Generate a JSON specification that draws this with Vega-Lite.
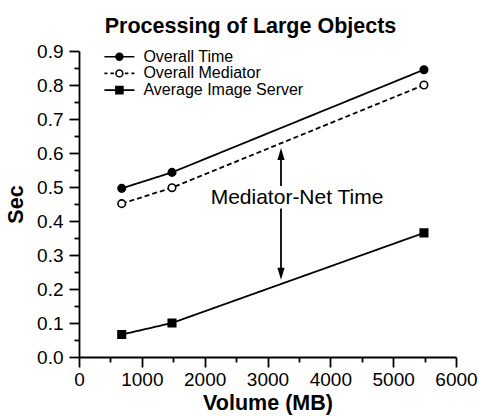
{
  "$schema": "https://vega.github.io/schema/vega-lite/v6.json",
  "width": 377,
  "height": 306,
  "autosize": {"type": "none"},
  "padding": {"left": 79, "top": 51, "right": 23, "bottom": 59},
  "background": "white",
  "title": {"text": "Processing of Large Objects", "font": "Liberation Sans", "fontSize": 21.5, "fontWeight": "bold", "color": "black", "anchor": "middle", "dx": -17, "offset": 5},
  "config": {
    "view": {"stroke": null},
    "font": "Liberation Sans",
    "axis": {"grid": false, "domainColor": "black", "domainWidth": 1.8, "tickColor": "black", "tickWidth": 1.8, "labelColor": "black", "labelFont": "Liberation Sans", "labelFontSize": 19, "titleFont": "Liberation Sans", "titleFontSize": 21.5, "titleFontWeight": "bold", "titleColor": "black", "labelOverlap": false, "labelFlush": false}
  },
  "datasets": {
    "series": [
      {"series": "Overall Time", "vol": 680, "sec": 0.496},
      {"series": "Overall Time", "vol": 1480, "sec": 0.543},
      {"series": "Overall Time", "vol": 5490, "sec": 0.845},
      {"series": "Overall Mediator", "vol": 680, "sec": 0.451},
      {"series": "Overall Mediator", "vol": 1480, "sec": 0.498},
      {"series": "Overall Mediator", "vol": 5490, "sec": 0.800},
      {"series": "Average Image Server", "vol": 680, "sec": 0.066},
      {"series": "Average Image Server", "vol": 1480, "sec": 0.100},
      {"series": "Average Image Server", "vol": 5490, "sec": 0.365}
    ]
  },
  "encoding": {
    "x": {"field": "vol", "type": "quantitative", "scale": {"domain": [0, 6000], "nice": false, "zero": false},
      "axis": {"title": "Volume (MB)", "format": "d", "values": [0, 500, 1000, 1500, 2000, 2500, 3000, 3500, 4000, 4500, 5000, 5500, 6000],
        "tickSize": {"condition": {"test": "datum.value % 1000 === 0", "value": 10}, "value": 5},
        "labelExpr": "datum.value % 1000 === 0 ? datum.label : ''", "labelPadding": 3, "titlePadding": 3}},
    "y": {"field": "sec", "type": "quantitative", "scale": {"domain": [0, 0.9], "nice": false},
      "axis": {"title": "Sec", "values": [0, 0.05, 0.1, 0.15, 0.2, 0.25, 0.3, 0.35, 0.4, 0.45, 0.5, 0.55, 0.6, 0.65, 0.7, 0.75, 0.8, 0.85, 0.9],
        "tickSize": {"condition": {"test": "abs(datum.value * 10 - round(datum.value * 10)) < 0.001", "value": 10}, "value": 5},
        "labelExpr": "abs(datum.value * 10 - round(datum.value * 10)) < 0.001 ? format(datum.value, '.1f') : ''", "labelPadding": 6, "titlePadding": 9}}
  },
  "layer": [
    {
      "data": {"name": "series"},
      "mark": {"type": "line", "color": "black", "strokeWidth": 1.8},
      "encoding": {
        "detail": {"field": "series"},
        "strokeDash": {"field": "series", "type": "nominal", "scale": {"domain": ["Overall Time", "Overall Mediator", "Average Image Server"], "range": [[1, 0], [5, 3], [1, 0]]}, "legend": null}
      }
    },
    {
      "data": {"name": "series"},
      "mark": {"type": "point", "filled": true, "stroke": "black", "strokeWidth": 1.6, "size": 56, "opacity": 1},
      "encoding": {
        "shape": {"field": "series", "type": "nominal", "scale": {"domain": ["Overall Time", "Overall Mediator", "Average Image Server"], "range": ["circle", "circle", "square"]}, "legend": null},
        "fill": {"field": "series", "type": "nominal", "scale": {"domain": ["Overall Time", "Overall Mediator", "Average Image Server"], "range": ["black", "white", "black"]}, "legend": null}
      }
    },
    {
      "data": {"name": "series"},
      "transform": [{"filter": "datum.vol < 0"}],
      "mark": {"type": "point", "filled": false, "strokeWidth": 1.6, "opacity": 1},
      "encoding": {
        "shape": {"field": "series", "type": "nominal", "scale": {"domain": ["Overall Time", "Overall Mediator", "Average Image Server"],
          "range": [
            "M-3,0L3,0M-0.68,0A0.68,0.68,0,1,0,0.68,0A0.68,0.68,0,1,0,-0.68,0Z",
            "M-3,0L-2.4,0M-1.8,0L-1.1,0M1.1,0L1.8,0M2.4,0L3,0M-0.68,0A0.68,0.68,0,1,0,0.68,0A0.68,0.68,0,1,0,-0.68,0Z",
            "M-3,0L3,0M-0.7,-0.7L0.7,-0.7L0.7,0.7L-0.7,0.7Z"
          ]},
          "legend": {"title": null, "orient": "none", "legendX": 32.4, "legendY": -2.3, "symbolSize": 100, "symbolStrokeWidth": 1.6, "labelFontSize": 16, "labelColor": "black", "labelFont": "Liberation Sans", "labelOffset": 16, "rowPadding": 0.7, "padding": 0, "symbolOpacity": 1}},
        "fill": {"field": "series", "type": "nominal", "scale": {"domain": ["Overall Time", "Overall Mediator", "Average Image Server"], "range": ["black", "white", "black"]},
          "legend": {"title": null, "orient": "none", "legendX": 32.4, "legendY": -2.3, "symbolSize": 100, "symbolStrokeWidth": 1.6, "labelFontSize": 16, "labelColor": "black", "labelFont": "Liberation Sans", "labelOffset": 16, "rowPadding": 0.7, "padding": 0, "symbolOpacity": 1}},
        "stroke": {"field": "series", "type": "nominal", "scale": {"domain": ["Overall Time", "Overall Mediator", "Average Image Server"], "range": ["black", "black", "black"]},
          "legend": {"title": null, "orient": "none", "legendX": 32.4, "legendY": -2.3, "symbolSize": 100, "symbolStrokeWidth": 1.6, "labelFontSize": 16, "labelColor": "black", "labelFont": "Liberation Sans", "labelOffset": 16, "rowPadding": 0.7, "padding": 0, "symbolOpacity": 1}}
      }
    },
    {
      "data": {"values": [{"vol": 3215, "sec": 0.598, "sec2": 0.503}, {"vol": 3215, "sec": 0.437, "sec2": 0.245}]},
      "mark": {"type": "rule", "color": "black", "strokeWidth": 1.8},
      "encoding": {
        "y2": {"field": "sec2"}
      }
    },
    {
      "data": {"values": [{"vol": 3215, "sec": 0.597, "dir": "up"}, {"vol": 3215, "sec": 0.245, "dir": "down"}]},
      "mark": {"type": "point", "filled": true, "color": "black", "size": 144, "opacity": 1},
      "encoding": {
        "shape": {"field": "dir", "type": "nominal", "scale": {"domain": ["up", "down"], "range": ["M0,-1L0.6,1L-0.6,1Z", "M0,1L0.6,-1L-0.6,-1Z"]}, "legend": null}
      }
    },
    {
      "data": {"values": [{"vol": 3470, "sec": 0.4685, "label": "Mediator-Net Time"}]},
      "mark": {"type": "text", "font": "Liberation Sans", "fontSize": 21, "color": "black", "align": "center", "baseline": "middle"},
      "encoding": {
        "text": {"field": "label"}
      }
    }
  ],
  "resolve": {"scale": {"shape": "independent", "fill": "independent", "strokeDash": "independent", "stroke": "independent"}}
}
